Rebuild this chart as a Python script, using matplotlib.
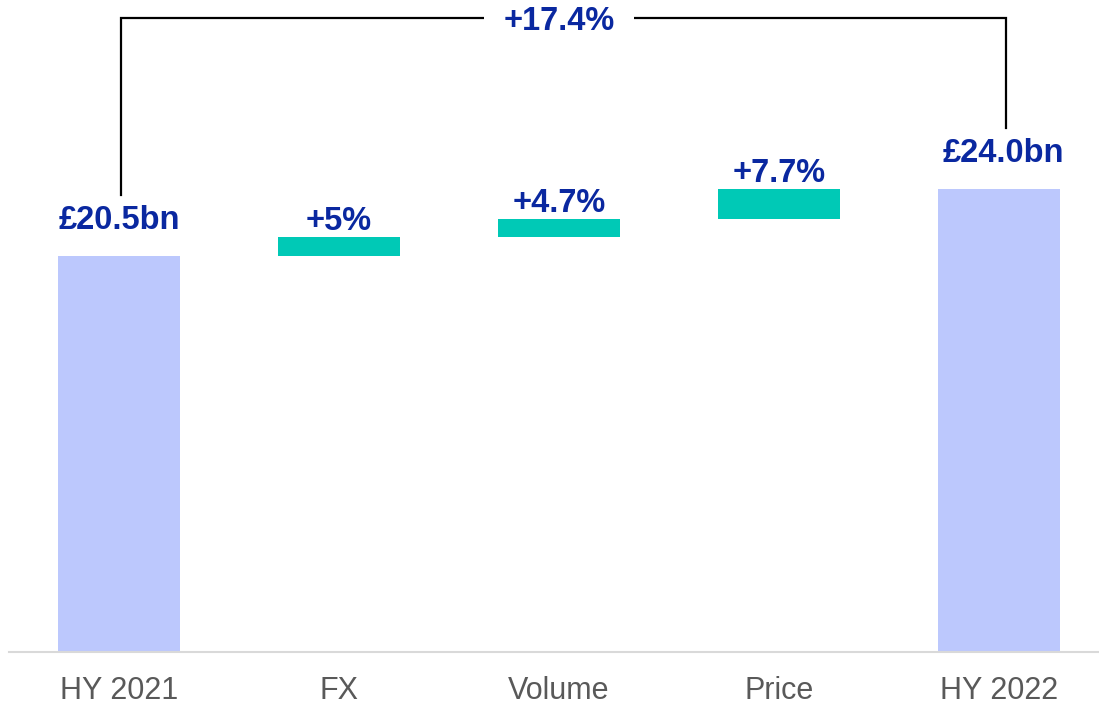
import matplotlib.pyplot as plt

# waterfall values (GBP bn)
categories = ["HY 2021", "FX", "Volume", "Price", "HY 2022"]
start_value = 20.5
deltas = [1.0, 0.93, 1.57]
end_value = 24.0
labels = ["£20.5bn", "+5%", "+4.7%", "+7.7%", "£24.0bn"]
total_label = "+17.4%"

NAVY = "#0a28a0"
TEAL = "#00c9b6"
LAVENDER = "#bcc8fd"


def main():
    plt.rcParams['font.family'] = ['Liberation Sans', 'DejaVu Sans']

    fig = plt.figure(figsize=(10.99, 7.05), dpi=100)
    ax = fig.add_axes([9 / 1099, 53 / 705, 1100 / 1099, 652 / 705])

    bottoms = [0]
    heights = [start_value]
    level = start_value
    for d in deltas:
        bottoms.append(level)
        heights.append(d)
        level += d
    bottoms.append(0)
    heights.append(end_value)
    colors = [LAVENDER] + [TEAL] * len(deltas) + [LAVENDER]

    x = list(range(len(categories)))
    ax.bar(x, heights, bottom=bottoms, width=0.555, color=colors, zorder=2)

    for i in x:
        top = bottoms[i] + heights[i]
        off = 19.5 if i in (0, len(x) - 1) else 5
        ax.annotate(labels[i], (i + (0.02 if i == len(x) - 1 else 0), top),
                    xytext=(0, off), textcoords="offset points",
                    ha="center", va="baseline", fontsize=23.5,
                    fontweight="bold", color=NAVY)

    # bracket across the whole change
    y_top = 32.85
    ax.plot([0.01, 0.01, 4.03, 4.03], [start_value + 3.2, y_top, y_top, end_value + 3.15],
            color="black", lw=1.6, solid_joinstyle="miter", zorder=3)
    ax.text(2.0, y_top, total_label, ha="center", va="center_baseline",
            fontsize=23.5, fontweight="bold", color=NAVY, zorder=4,
            bbox=dict(boxstyle="square,pad=0.6", fc="white", ec="none"))

    ax.set_xlim(-0.5, 4.5)
    ax.set_ylim(0, 652 / 19.3)
    ax.set_xticks(x)
    ax.set_xticklabels(categories, fontsize=22, color="#595959")
    ax.tick_params(axis="x", length=0, pad=17)
    ax.set_yticks([])
    for s in ["top", "right", "left"]:
        ax.spines[s].set_visible(False)
    ax.spines["bottom"].set_color("#d9d9d9")
    ax.spines["bottom"].set_linewidth(1.5)

    plt.savefig("out.png", dpi=100)


if __name__ == "__main__":
    main()
